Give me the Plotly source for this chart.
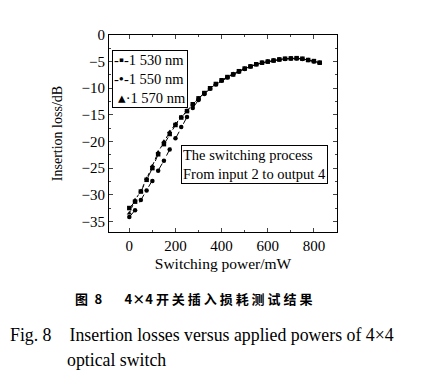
import plotly.graph_objects as go

power_mw = [0, 25, 50, 75, 100, 125, 150, 175, 200, 225, 250, 275, 300, 325, 350, 375, 400,
            425, 450, 475, 500, 525, 550, 575, 600, 625, 650, 675, 700, 725, 750, 775, 800, 825]

loss_1530 = [-32.5, -31.3, -29.4, -27.2, -25.0, -22.4, -20.5, -18.6, -16.9, -15.5, -14.3, -13.0,
             -11.9, -10.9, -10.0, -9.2, -8.5, -7.9, -7.4, -6.8, -6.3, -5.9, -5.5, -5.2, -5.0,
             -4.8, -4.6, -4.45, -4.4, -4.35, -4.45, -4.7, -4.9, -5.2]
loss_1550 = [-34.2, -32.9, -31.0, -29.2, -27.4, -25.5, -23.6, -21.5, -19.4, -17.3, -15.4, -13.7,
             -12.2, -11.1, -10.1, -9.3, -8.6, -8.0, -7.4, -6.9, -6.4, -5.9, -5.5, -5.2, -5.0,
             -4.8, -4.6, -4.5, -4.4, -4.4, -4.5, -4.7, -5.0, -5.2]
loss_1570 = [-33.5, -31.0, -29.3, -27.0, -24.6, -22.0, -20.0, -18.2, -16.7, -15.4, -14.2, -13.0,
             -11.9, -10.9, -10.0, -9.2, -8.5, -7.9, -7.3, -6.8, -6.3, -5.9, -5.5, -5.2, -5.0,
             -4.8, -4.6, -4.45, -4.4, -4.4, -4.5, -4.7, -4.9, -5.2]

series_names = ["1 530 nm", "1 550 nm", "1 570 nm"]
legend_glyphs = ["-▪-", "-•-", " ▴·"]
x_ticks = [0, 200, 400, 600, 800]
y_ticks = [0, -5, -10, -15, -20, -25, -30, -35]

x_title = "Switching power/mW"
y_title = "Insertion loss/dB"
box_text = "The switching process<br>From input 2 to output 4"
caption_cn = "图\u20028\u3000\u2002 4×4 开 关 插 入 损 耗 测 试 结 果"
caption_en1 = "Fig. 8\u3000Insertion losses versus applied powers of 4×4"
caption_en2 = "optical switch"

SERIF = "Liberation Serif, Times New Roman, serif"

fig = go.Figure()
styles = [("dash", "square"), ("dash", "circle"), ("dot", "triangle-up")]
for name, ys, (dash, sym) in zip(series_names, [loss_1530, loss_1550, loss_1570], styles):
    fig.add_trace(go.Scatter(
        x=power_mw, y=ys, name=name, mode="lines+markers",
        line=dict(color="black", width=1, dash=dash),
        marker=dict(symbol=sym, size=4.5, color="black"),
        showlegend=False,
    ))

W, H = 424, 376
OFF = 8  # page body margin
L, R, T, B = 109 - OFF, 337 - OFF, 35 - OFF, 232 - OFF


def px(xp):
    return (xp - OFF - L) / (R - L)


def py(yp):
    return (B - (yp - OFF)) / (B - T)


fig.update_layout(
    width=W, height=H,
    margin=dict(l=L, r=W - R, t=T, b=H - B),
    paper_bgcolor="white", plot_bgcolor="white",
    font=dict(family=SERIF, size=12, color="black"),
    showlegend=False,
    xaxis=dict(
        range=[-88, 900], tickvals=x_ticks, ticks="inside", ticklen=4,
        showline=True, linecolor="black", linewidth=1.2, mirror="ticks",
        showgrid=False, zeroline=False,
        minor=dict(dtick=100, ticks="inside", ticklen=2, tick0=0),
        tickfont=dict(family=SERIF, size=15),
        title=dict(text=x_title, font=dict(family=SERIF, size=15.5), standoff=5),
    ),
    yaxis=dict(
        range=[-37, 0], tickvals=y_ticks, ticks="inside", ticklen=4,
        showline=True, linecolor="black", linewidth=1.2, mirror="ticks",
        showgrid=False, zeroline=False,
        minor=dict(dtick=2.5, ticks="inside", ticklen=2, tick0=0),
        tickfont=dict(family=SERIF, size=15),
        title=dict(text=y_title, font=dict(family=SERIF, size=14), standoff=15),
    ),
)

# legend box (text-based, compact like the original)
legend_text = "<br>".join(g + n for g, n in zip(legend_glyphs, series_names))
fig.add_annotation(
    xref="paper", yref="paper", x=px(112), y=py(50),
    xanchor="left", yanchor="top",
    text=legend_text, showarrow=False, align="left",
    bordercolor="black", borderwidth=1, borderpad=1, bgcolor="white",
    font=dict(family=SERIF, size=14.5),
)

fig.add_annotation(
    xref="paper", yref="paper", x=px(254), y=py(164.5),
    text=box_text, showarrow=False, align="left",
    bordercolor="black", borderwidth=1, borderpad=1, bgcolor="white",
    font=dict(family=SERIF, size=14.5),
)

fig.add_annotation(
    xref="paper", yref="paper", x=px(73), y=py(298),
    text=caption_cn, showarrow=False, xanchor="left", yanchor="middle",
    font=dict(family="Noto Sans CJK SC", size=13, weight="bold"),
)
fig.add_annotation(
    xref="paper", yref="paper", x=px(8), y=py(335),
    text=caption_en1, showarrow=False, xanchor="left", yanchor="middle",
    font=dict(family=SERIF, size=17.8),
)
fig.add_annotation(
    xref="paper", yref="paper", x=px(65), y=py(360),
    text=caption_en2, showarrow=False, xanchor="left", yanchor="middle",
    font=dict(family=SERIF, size=17.8),
)

fig.write_html("out.html")
